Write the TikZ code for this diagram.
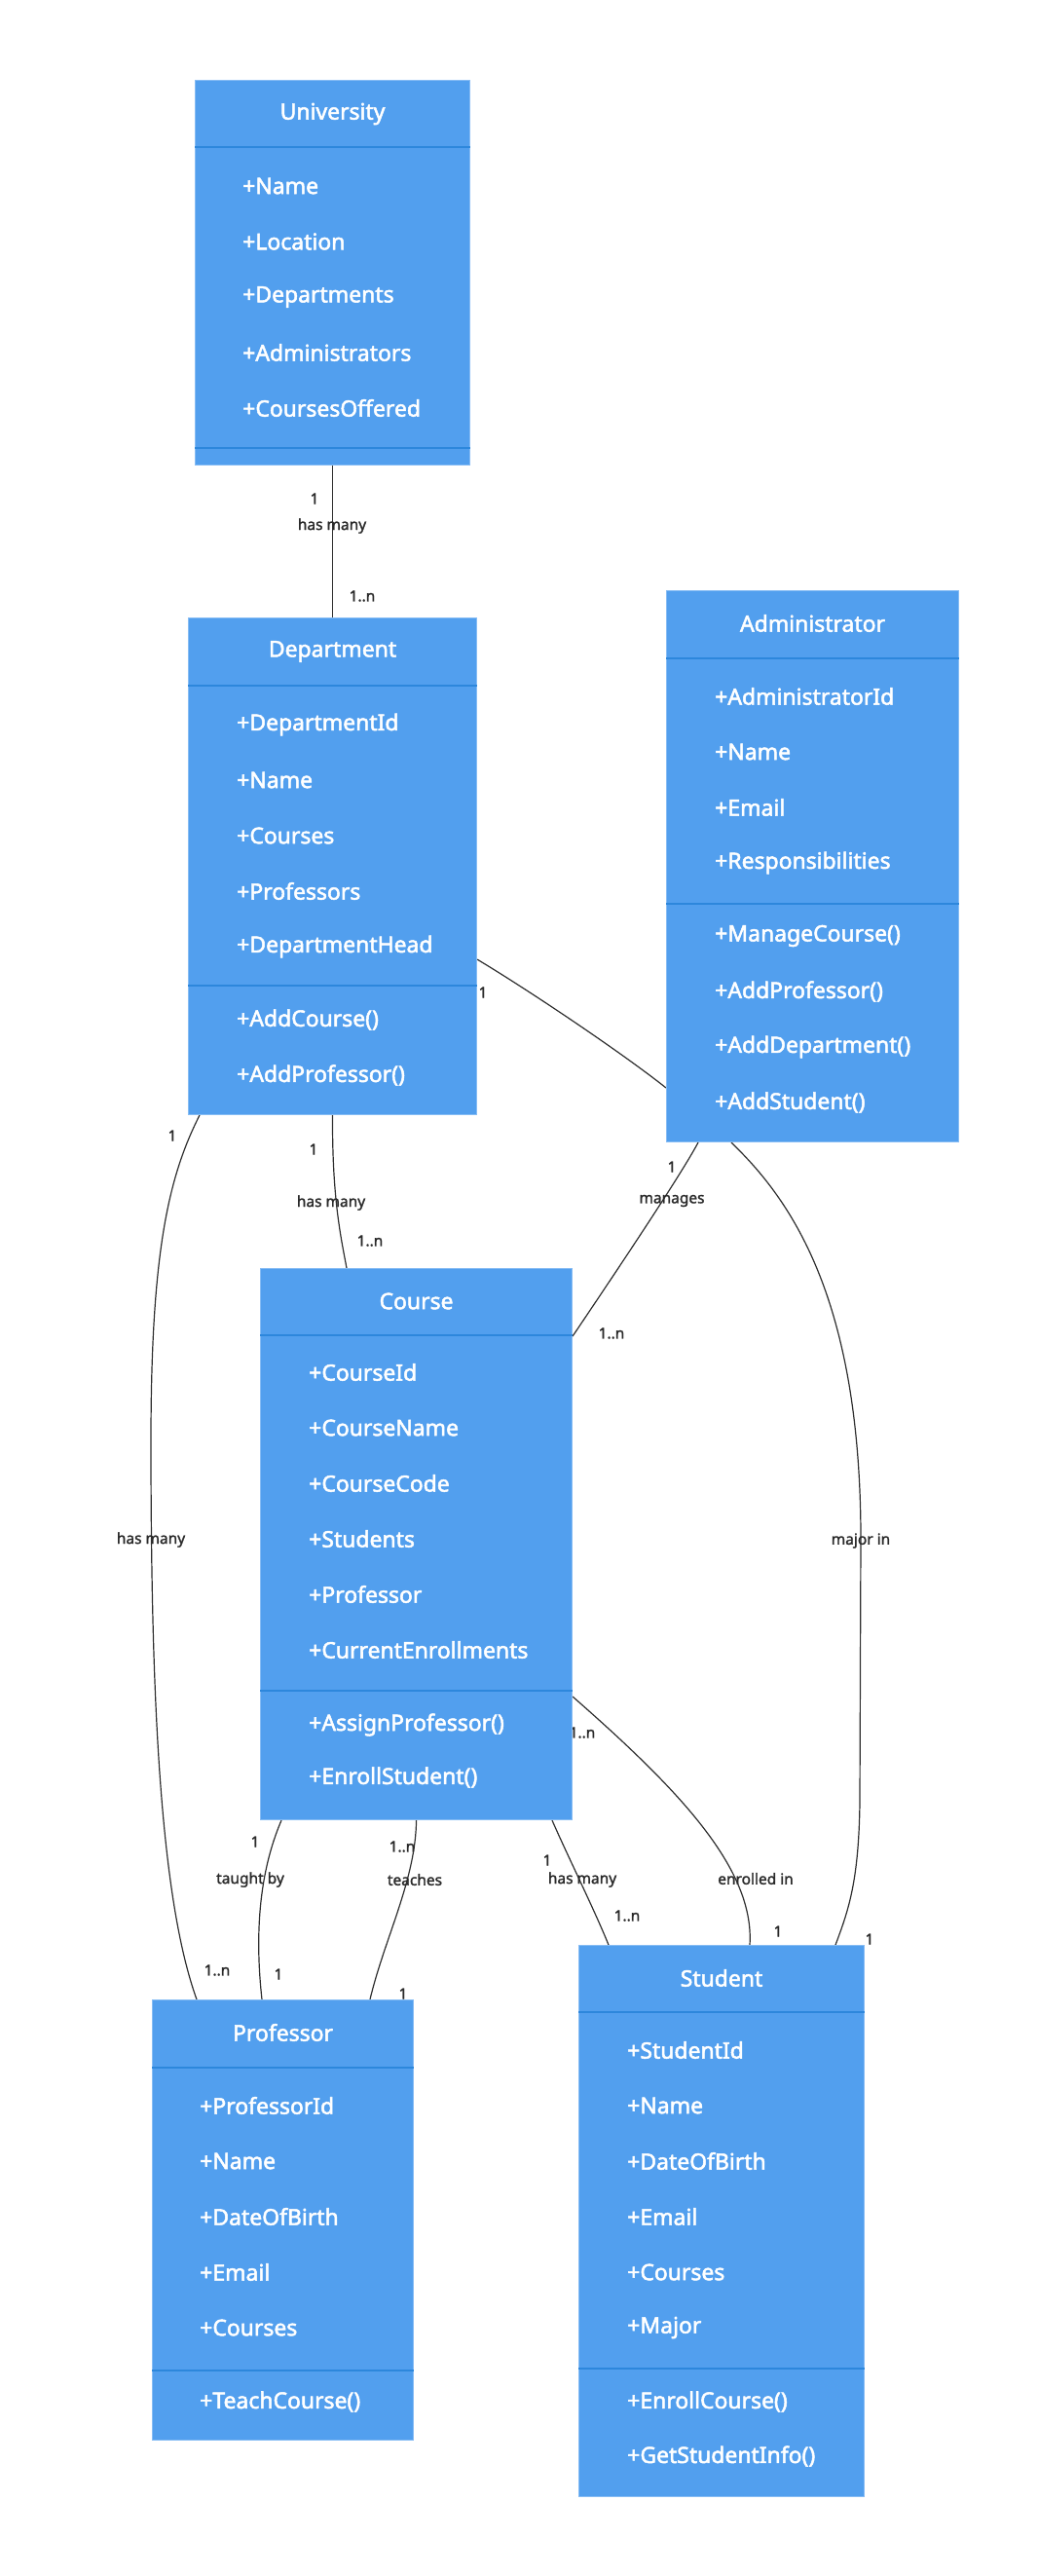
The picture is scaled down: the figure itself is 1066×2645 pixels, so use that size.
\documentclass[tikz,border=0pt]{standalone}
\usepackage{fontspec}
\setmainfont{Noto Sans}
\newfontfamily\clsfont{Noto Sans}[FakeBold=2.2]
\newfontfamily\lblfont{Noto Sans}[FakeBold=1.6]
\usetikzlibrary{calc,backgrounds}
\definecolor{clsfill}{HTML}{529FEE}
\definecolor{clsborder}{HTML}{86BCF4}
\definecolor{divcol}{HTML}{2D87DC}
\definecolor{linecol}{HTML}{2E2E2E}
\definecolor{lblcol}{HTML}{2A2A2A}
\begin{document}
\begin{tikzpicture}[x=0.75pt,y=-0.75pt,
 cls/.style={draw=clsborder, line width=0.8pt, fill=clsfill, rectangle, inner sep=0pt, anchor=north west},
 clstitle/.style={text=white, font=\clsfont\fontsize{17.2}{19}\selectfont, inner sep=0pt},
 attr/.style={text=white, font=\clsfont\fontsize{17.2}{19}\selectfont, anchor=west, inner sep=0pt},
 divline/.style={draw=divcol, line width=1pt},
 rel/.style={draw=linecol, line width=0.9pt},
 lbl/.style={text=lblcol, font=\lblfont\fontsize{11.6}{13}\selectfont, inner sep=0pt}]
\useasboundingbox (0,0) rectangle (1066,2645);

% ---------- University
\node[cls, minimum width=211.5pt, minimum height=296.25pt] (univ) at (200,82) {};
\node[clstitle] (univT) at ($(univ.north)+(0,35)$) {University};
\draw[divline] ($(univ.north west)+(0,69)$) -- ($(univ.north east)+(0,69)$);
\draw[divline] ($(univ.north west)+(0,378)$) -- ($(univ.north east)+(0,378)$);
\foreach \t [count=\i] in {+Name,+Location,+Departments,+Administrators,+CoursesOffered}
  \node[attr] (univA\i) at ($(univ.north west)+(49,{109+57*(\i-1)})$) {\t};

% ---------- Department
\node[cls, minimum width=222pt, minimum height=382.5pt] (dept) at (193,634) {};
\node[clstitle] (deptT) at ($(dept.north)+(0,35)$) {Department};
\draw[divline] ($(dept.north west)+(0,70)$) -- ($(dept.north east)+(0,70)$);
\draw[divline] ($(dept.north west)+(0,378)$) -- ($(dept.north east)+(0,378)$);
\foreach \t [count=\i] in {+DepartmentId,+Name,+Courses,+Professors,+DepartmentHead}
  \node[attr] (deptA\i) at ($(dept.north west)+(50,{110+57*(\i-1)})$) {\t};
\foreach \t [count=\i] in {+AddCourse(),+AddProfessor()}
  \node[attr] (deptM\i) at ($(dept.north west)+(50,{413+57*(\i-1)})$) {\t};

% ---------- Administrator
\node[cls, minimum width=225pt, minimum height=424.5pt] (admin) at (684,606) {};
\node[clstitle] (adminT) at ($(admin.north)+(0,34)$) {Administrator};
\draw[divline] ($(admin.north west)+(0,70)$) -- ($(admin.north east)+(0,70)$);
\draw[divline] ($(admin.north west)+(0,322)$) -- ($(admin.north east)+(0,322)$);
\foreach \t [count=\i] in {+AdministratorId,+Name,+Email,+Responsibilities}
  \node[attr] (adminA\i) at ($(admin.north west)+(50,{109+57*(\i-1)})$) {\t};
\foreach \t [count=\i] in {+ManageCourse(),+AddProfessor(),+AddDepartment(),+AddStudent()}
  \node[attr] (adminM\i) at ($(admin.north west)+(50,{355+57*(\i-1)})$) {\t};

% ---------- Course
\node[cls, minimum width=240pt, minimum height=424.5pt] (course) at (267,1302) {};
\node[clstitle] (courseT) at ($(course.north)+(0,34)$) {Course};
\draw[divline] ($(course.north west)+(0,69)$) -- ($(course.north east)+(0,69)$);
\draw[divline] ($(course.north west)+(0,434)$) -- ($(course.north east)+(0,434)$);
\foreach \t [count=\i] in {+CourseId,+CourseName,+CourseCode,+Students,+Professor,+CurrentEnrollments}
  \node[attr] (courseA\i) at ($(course.north west)+(50,{107+57*(\i-1)})$) {\t};
\foreach \t [count=\i] in {+AssignProfessor(),+EnrollStudent()}
  \node[attr] (courseM\i) at ($(course.north west)+(50,{469+54*(\i-1)})$) {\t};

% ---------- Professor
\node[cls, minimum width=201pt, minimum height=339pt] (prof) at (156,2053) {};
\node[clstitle] (profT) at ($(prof.north)+(0,34)$) {Professor};
\draw[divline] ($(prof.north west)+(0,70)$) -- ($(prof.north east)+(0,70)$);
\draw[divline] ($(prof.north west)+(0,381)$) -- ($(prof.north east)+(0,381)$);
\foreach \t [count=\i] in {+ProfessorId,+Name,+DateOfBirth,+Email,+Courses}
  \node[attr] (profA\i) at ($(prof.north west)+(49,{109+57*(\i-1)})$) {\t};
\node[attr] (profM1) at ($(prof.north west)+(49,413)$) {+TeachCourse()};

% ---------- Student
\node[cls, minimum width=219.75pt, minimum height=424.5pt] (stud) at (594,1997) {};
\node[clstitle] (studT) at ($(stud.north)+(0,34)$) {Student};
\draw[divline] ($(stud.north west)+(0,69)$) -- ($(stud.north east)+(0,69)$);
\draw[divline] ($(stud.north west)+(0,435)$) -- ($(stud.north east)+(0,435)$);
\foreach \t [count=\i] in {+StudentId,+Name,+DateOfBirth,+Email,+Courses,+Major}
  \node[attr] (studA\i) at ($(stud.north west)+(50,{108+57*(\i-1)})$) {\t};
\foreach \t [count=\i] in {+EnrollCourse(),+GetStudentInfo()}
  \node[attr] (studM\i) at ($(stud.north west)+(50,{469+56*(\i-1)})$) {\t};

% ---------- Relations
\begin{scope}[on background layer]
% University - Department
\draw[rel] (univ.south) -- (dept.north);
\node[lbl] (l1a) at (323,512) {1};
\node[lbl] (l1b) at (341,540) {has many};
\node[lbl] (l1c) at (372,612) {1..n};
% Department - Administrator
\draw[rel] ($(dept.south east)+(0,-160)$) .. controls (545,1018) and (640,1082) .. ($(admin.north west)+(0,511)$);
\node[lbl] (l2a) at (496,1019) {1};
% Administrator - Course (manages)
\draw[rel] ($(admin.south west)+(33,0)$) .. controls (700,1205) and (640,1295) .. ($(course.north east)+(0,70)$);
\node[lbl] (l3a) at (690,1198) {1};
\node[lbl] (l3b) at (690,1233) {manages};
\node[lbl] (l3c) at (628,1369) {1..n};
% Department - Course (has many)
\draw[rel] (dept.south) .. controls (341,1230) and (350,1270) .. ($(course.north west)+(89,0)$);
\node[lbl] (l4a) at (322,1180) {1};
\node[lbl] (l4b) at (340,1235) {has many};
\node[lbl] (l4c) at (380,1274) {1..n};
% Department - Professor (has many)
\draw[rel] ($(dept.south west)+(12,0)$) .. controls (172,1210) and (155,1290) .. (155,1480)
  .. controls (155,1750) and (165,1950) .. ($(prof.north west)+(46,0)$);
\node[lbl] (l5a) at (177,1166) {1};
\node[lbl] (l5b) at (155,1581) {has many};
\node[lbl] (l5c) at (223,2023) {1..n};
% Course - Professor (taught by)
\draw[rel] ($(course.south west)+(22,0)$) .. controls (265,1925) and (262,1990) .. ($(prof.north west)+(113,0)$);
\node[lbl] (l6a) at (262,1891) {1};
\node[lbl] (l6b) at (257,1930) {taught by};
\node[lbl] (l6c) at (286,2027) {1};
% Course - Professor (teaches)
\draw[rel] (course.south) .. controls (427,1930) and (395,1990) .. ($(prof.north west)+(224,0)$);
\node[lbl] (l7a) at (413,1896) {1..n};
\node[lbl] (l7b) at (426,1930) {teaches};
\node[lbl] (l7c) at (414,2047) {1};
% Course - Student (has many)
\draw[rel] ($(course.south west)+(300,0)$) .. controls (585,1910) and (610,1960) .. ($(stud.north west)+(31,0)$);
\node[lbl] (l8a) at (562,1910) {1};
\node[lbl] (l8b) at (598,1930) {has many};
\node[lbl] (l8c) at (644,1967) {1..n};
% Course - Student (enrolled in)
\draw[rel] ($(course.north east)+(0,440)$) .. controls (700,1840) and (775,1920) .. ($(stud.north west)+(176,0)$);
\node[lbl] (l9a) at (598,1779) {1..n};
\node[lbl] (l9b) at (776,1929) {enrolled in};
\node[lbl] (l9c) at (799,1983) {1};
% Administrator - Student (major in)
\draw[rel] ($(admin.south west)+(67,0)$) .. controls (810,1230) and (884,1330) .. (884,1580)
  -- (883,1850) .. controls (882,1930) and (872,1960) .. ($(stud.north west)+(264,0)$);
\node[lbl] (l10a) at (884,1582) {major in};
\node[lbl] (l10b) at (893,1991) {1};
\end{scope}
\end{tikzpicture}
\end{document}
